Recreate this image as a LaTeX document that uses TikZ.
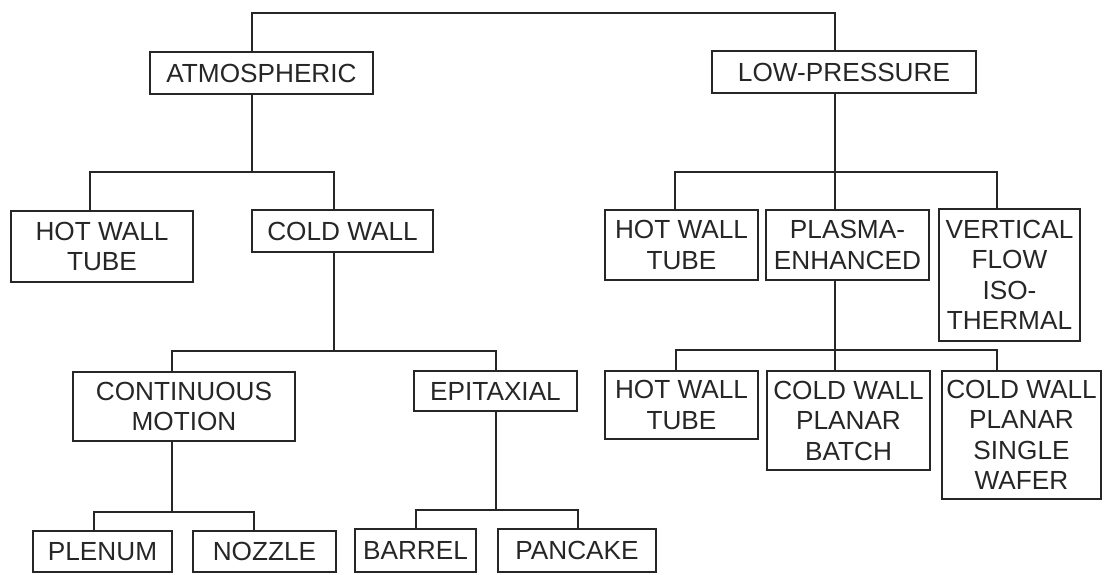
\documentclass[tikz,border=0pt]{standalone}
\usepackage{fontspec}
\setmainfont{Liberation Sans}
\begin{document}
\begin{tikzpicture}[x=1pt,y=-1pt,
  box/.style={draw=black!85, line width=1.5pt, inner sep=0pt, align=center,
    font=\fontsize{26.2}{30.5}\selectfont, text=black!85},
  conn/.style={draw=black!85, line width=1.5pt, line join=miter}]
\useasboundingbox (0,0) rectangle (1104,574);
% boxes
\node[box, minimum width=223, minimum height=42] (atm) at (261.5,73) {ATMOSPHERIC};
\node[box, minimum width=264, minimum height=42] (low) at (844,72) {LOW-PRESSURE};
\node[box, minimum width=182, minimum height=71] (hw1) at (102,246.5) {HOT WALL\\TUBE};
\node[box, minimum width=181, minimum height=42] (cw1) at (342.5,231) {COLD WALL};
\node[box, minimum width=222, minimum height=69] (cm) at (184,406.5) {CONTINUOUS\\MOTION};
\node[box, minimum width=163, minimum height=40] (epi) at (495.5,391) {EPITAXIAL};
\node[box, minimum width=139, minimum height=41] (plenum) at (102.5,551.5) {PLENUM};
\node[box, minimum width=143, minimum height=41] (nozzle) at (264.5,551.5) {NOZZLE};
\node[box, minimum width=121, minimum height=43] (barrel) at (415.5,550.5) {BARREL};
\node[box, minimum width=158, minimum height=43] (pancake) at (577,550.5) {PANCAKE};
\node[box, minimum width=153, minimum height=70] (hw2) at (681.5,245) {HOT WALL\\TUBE};
\node[box, minimum width=163, minimum height=70] (pe) at (847.5,245) {PLASMA-\\ENHANCED};
\node[box, minimum width=141, minimum height=132] (vf) at (1009.5,275) {VERTICAL\\FLOW\\ISO-\\THERMAL};
\node[box, minimum width=153, minimum height=68] (hw3) at (681.5,405) {HOT WALL\\TUBE};
\node[box, minimum width=163, minimum height=99] (cwb) at (848.5,420.5) {COLD WALL\\PLANAR\\BATCH};
\node[box, minimum width=159, minimum height=128] (cws) at (1021.5,435) {COLD WALL\\PLANAR\\SINGLE\\WAFER};
% junction coordinates
\coordinate (t1) at (252,13);  \coordinate (t2) at (835,13);
\coordinate (a0) at (252,172); \coordinate (a1) at (90,172);  \coordinate (a2) at (334,172);
\coordinate (c0) at (334,351); \coordinate (c1) at (172,351); \coordinate (c2) at (496,351);
\coordinate (m0) at (172,512); \coordinate (m1) at (94,512);  \coordinate (m2) at (254,512);
\coordinate (e0) at (496,510); \coordinate (e1) at (416,510); \coordinate (e2) at (578,510);
\coordinate (l0) at (835,172); \coordinate (l1) at (675,172); \coordinate (l3) at (997,172);
\coordinate (p0) at (835,350); \coordinate (p1) at (676,350); \coordinate (p3) at (997,350);
% connectors
\draw[conn] (atm.north -| t1) -- (t1) -- (t2) -- (low.north -| t2);
\draw[conn] (atm.south -| a0) -- (a0);
\draw[conn] (hw1.north -| a1) -- (a1) -- (a2) -- (cw1.north -| a2);
\draw[conn] (cw1.south -| c0) -- (c0);
\draw[conn] (cm.north -| c1) -- (c1) -- (c2) -- (epi.north -| c2);
\draw[conn] (cm.south -| m0) -- (m0);
\draw[conn] (plenum.north -| m1) -- (m1) -- (m2) -- (nozzle.north -| m2);
\draw[conn] (epi.south -| e0) -- (e0);
\draw[conn] (barrel.north -| e1) -- (e1) -- (e2) -- (pancake.north -| e2);
\draw[conn] (low.south -| l0) -- (pe.north -| l0);
\draw[conn] (hw2.north -| l1) -- (l1) -- (l3) -- (vf.north -| l3);
\draw[conn] (pe.south -| p0) -- (cwb.north -| p0);
\draw[conn] (hw3.north -| p1) -- (p1) -- (p3) -- (cws.north -| p3);
\end{tikzpicture}
\end{document}
